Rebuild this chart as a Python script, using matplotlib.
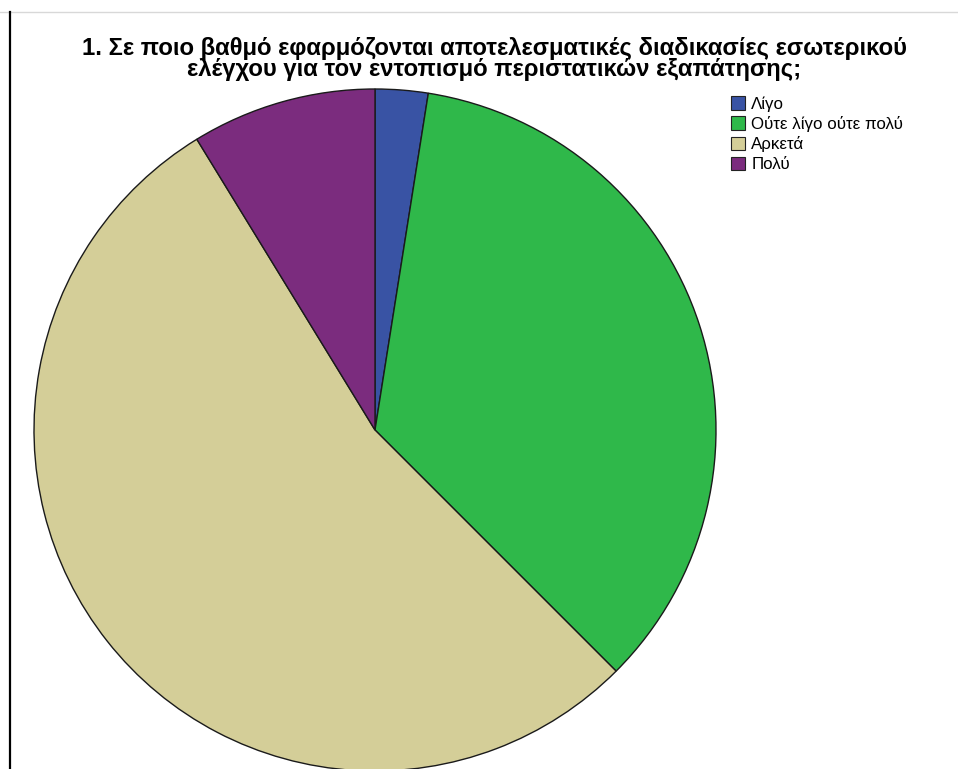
import matplotlib
matplotlib.use("Agg")
import matplotlib.pyplot as plt
from matplotlib.patches import Patch
from matplotlib.lines import Line2D

categories = ["Λίγο", "Ούτε λίγο ούτε πολύ", "Αρκετά", "Πολύ"]
counts = [2, 28, 43, 7]
colors = ["#3953A4", "#2FB84A", "#D4CE98", "#7B2C7E"]
title = ("1. Σε ποιο βαθμό εφαρμόζονται αποτελεσματικές διαδικασίες εσωτερικού\n"
         "ελέγχου για τον εντοπισμό περιστατικών εξαπάτησης;")

W, H = 958, 769
fig = plt.figure(figsize=(W / 100, H / 100), dpi=100)
fig.patch.set_facecolor("white")

# pie area in pixel units
cx, cy, r = 375, 430, 341
ax = fig.add_axes([(cx - r) / W, (H - cy - r) / H, 2 * r / W, 2 * r / H])
ax.pie(counts, colors=colors, startangle=90, counterclock=False,
       radius=1.0, wedgeprops=dict(edgecolor="#1a1a1a", linewidth=1.0))
ax.set_xlim(-1, 1)
ax.set_ylim(-1, 1)
ax.set_aspect("equal")
ax.axis("off")
for p in ax.patches:
    p.set_clip_on(False)

fig.text(494 / W, 1 - 59 / H, title, ha="center", va="center",
         fontsize=17.2, fontweight="bold",
         family=["Liberation Sans", "DejaVu Sans"], linespacing=0.86)

handles = [Patch(facecolor=c, edgecolor="#222222", linewidth=0.8) for c in colors]
fig.legend(handles, categories, loc="upper left",
           bbox_to_anchor=(731 / W, 1 - 96 / H), frameon=False,
           prop=dict(family=["Liberation Sans", "DejaVu Sans"], size=12.2),
           handlelength=0.85, handleheight=0.85, handletextpad=0.35,
           labelspacing=0.26, borderpad=0, borderaxespad=0)

# frame lines
fig.add_artist(Line2D([0, 1], [1 - 12 / H, 1 - 12 / H], color="#d8d8d8",
                      linewidth=1, transform=fig.transFigure))
fig.add_artist(Line2D([9.5 / W, 9.5 / W], [0, 1 - 12 / H], color="black",
                      linewidth=1.6, transform=fig.transFigure))

fig.savefig("out.png", dpi=100)
